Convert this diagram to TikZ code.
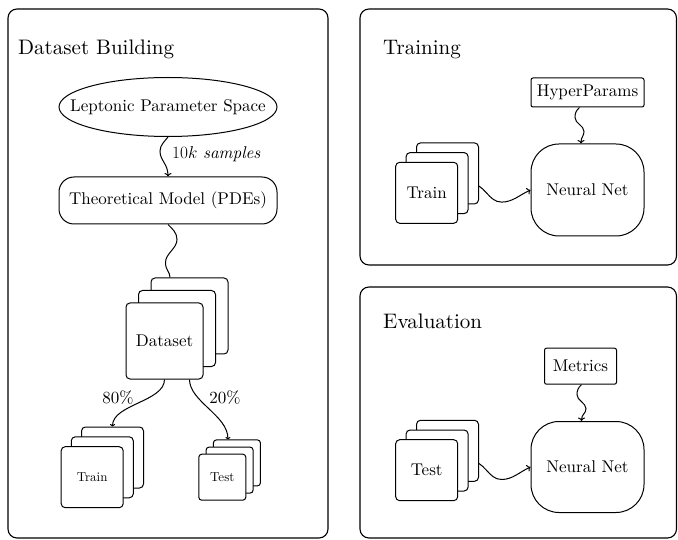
\documentclass[tikz,border=0pt]{standalone}
\usepackage{fontspec}
% one design size scaled to every size, so large text keeps the 10pt proportions
\setmainfont{lmroman10}[Extension=.otf, UprightFont=*-regular, ItalicFont=*-italic, BoldFont=*-bold, BoldItalicFont=*-bolditalic]
\usetikzlibrary{shapes.geometric,calc,backgrounds,arrows.meta}
\begin{document}
\begin{tikzpicture}[x=1pt,y=-1pt,
  panel/.style={draw, line width=1.1pt, rounded corners=9pt},
  title/.style={font=\fontsize{21}{25}\selectfont, anchor=base west, inner sep=0pt},
  txt/.style={font=\fontsize{17}{20}\selectfont},
  smalltxt/.style={font=\fontsize{13}{15}\selectfont},
  box/.style={draw, fill=white, line width=1pt, inner sep=0pt, txt},
  sheet/.style={box, rounded corners=4pt, minimum width=62pt, minimum height=61pt},
  bigsheet/.style={sheet, minimum width=77pt, minimum height=76pt},
  tinysheet/.style={sheet, rounded corners=3pt, minimum width=47pt, minimum height=46pt, smalltxt},
  link/.style={line width=1pt},
  tip/.style={link, -{To[length=3.5pt, width=7pt]}},
  smalltip/.style={link, -{To[length=2.5pt, width=5pt]}},
]
\useasboundingbox (0,0) rectangle (678,540);

% ---------- Dataset building ----------
\node[title] (t1) at (18,55) {Dataset Building};
\node[box, ellipse, minimum width=218pt, minimum height=59pt] (lps) at (168,107)
  {\makebox[0pt]{Leptonic Parameter Space}};
\node[box, rounded corners=15pt, minimum width=218pt, minimum height=47pt] (tm) at (168,200.5)
  {Theoretical Model (PDEs)};
\node[txt, anchor=base west, inner sep=0pt] (ns) at (172,158.5) {$10k$ \textit{samples}};

% dataset stack (back to front)
\node[bigsheet] (ds3) at (189.5,316) {};
\node[bigsheet] (ds2) at (177,328.5) {};
\node[bigsheet] (ds)  at (164.5,341) {Dataset};

% train split stack
\node[sheet, smalltxt] (tr3) at (112.5,457.5) {};
\node[sheet, smalltxt] (tr2) at (102.3,467.3) {};
\node[sheet, smalltxt] (tr)  at (92.2,477.2) {Train};

% test split stack
\node[tinysheet] (te3) at (236.9,462.9) {};
\node[tinysheet] (te2) at (229.6,470.1) {};
\node[tinysheet] (te)  at (222.3,477.2) {Test};

\node[txt, inner sep=0pt] (p80) at (118,398) {80\%};
\node[txt, inner sep=0pt] (p20) at (225,398) {20\%};

% ---------- Training ----------
\node[title] (t2) at (383,55) {Training};
\node[box, rounded corners=2pt, minimum width=113pt, minimum height=29pt] (hp) at (587.5,92.5) {HyperParams};
\node[box, rounded corners=28pt, minimum width=113pt, minimum height=92pt] (nn1) at (587.5,190) {Neural Net};
\node[sheet] (tt3) at (447.5,173.4) {};
\node[sheet] (tt2) at (437.1,183.1) {};
\node[sheet] (tt)  at (426.7,192.8) {Train};

% ---------- Evaluation ----------
\node[title] (t3) at (383,328.3) {Evaluation};
\node[box, rounded corners=2pt, minimum width=72pt, minimum height=36pt] (mt) at (580.5,366.2) {Metrics};
\node[box, rounded corners=28pt, minimum width=113pt, minimum height=91pt] (nn2) at (587.5,467) {Neural Net};
\node[sheet] (ev3) at (447.5,450.8) {};
\node[sheet] (ev2) at (437.1,460.5) {};
\node[sheet] (ev)  at (426.7,470.2) {Test};

\begin{pgfonlayer}{background}
  % panels
  \draw[panel] (8,9) rectangle (328,538);
  \draw[panel] (360,9) rectangle (676.5,265);
  \draw[panel] (360,287) rectangle (676.5,538);

  % sampling link
  \draw[tip] (lps.south)
    .. controls ($(lps.south)+(-3,4)$) and ($(lps.south)+(-8,8)$) .. ($(lps.south)+(-8,14)$)
    .. controls ($(lps.south)+(-8,24)$) and ($(tm.north)+(0,-13)$) .. (tm.north);

  % model to dataset
  \draw[link] (tm.south)
    .. controls ($(tm.south)+(4,4)$) and ($(tm.south)+(9,8)$) .. ($(tm.south)+(9,15)$)
    .. controls ($(tm.south)+(9,24)$) and ($(tm.south)+(-2.5,29)$) .. ($(tm.south)+(-2.5,38)$)
    .. controls ($(tm.south)+(-2.5,46)$) and ($(ds3.north)+(-19.5,-6)$) .. ($(ds3.north)+(-19.5,0)$);

  % splits
  \draw[smalltip] (ds.south) .. controls ($(ds.south)+(0,22)$) and ($(tr3.north)+(0,-22)$) .. (tr3.north);
  \draw[smalltip] ($(ds.south)+(25,0)$) .. controls ($(ds.south)+(25,22)$) and ($(te3.north)+(-9,-24)$) .. ($(te3.north)+(-9,0)$);

  % training links
  \draw[tip] ($(hp.south)+(-8,0)$)
    .. controls ($(hp.south)+(-11.5,3)$) and ($(hp.south)+(-12.5,6)$) .. ($(hp.south)+(-12.5,10)$)
    .. controls ($(hp.south)+(-12.5,16)$) and ($(hp.south)+(-3.5,18)$) .. ($(hp.south)+(-3.5,24)$)
    .. controls ($(hp.south)+(-3.5,29)$) and ($(nn1.north)+(-6.5,-7)$) .. ($(nn1.north)+(-6.5,0)$);
  \draw[tip] (tt2.east)
    .. controls ($(tt2.east)+(17,0)$) and ($(tt2.east)+(19,19)$) .. ($(tt2.east)+(33,19)$)
    .. controls ($(tt2.east)+(44,19)$) and ($(nn1.west)+(-11,5)$) .. (nn1.west);

  % evaluation links
  \draw[tip] ($(mt.south)+(1,0)$)
    .. controls ($(mt.south)+(-2.5,3)$) and ($(mt.south)+(-3.5,6)$) .. ($(mt.south)+(-3.5,10)$)
    .. controls ($(mt.south)+(-3.5,16)$) and ($(mt.south)+(5.5,18)$) .. ($(mt.south)+(5.5,24)$)
    .. controls ($(mt.south)+(5.5,29)$) and ($(nn2.north)+(-6,-7)$) .. ($(nn2.north)+(-6,0)$);
  \draw[tip] (ev2.east)
    .. controls ($(ev2.east)+(17,0)$) and ($(ev2.east)+(19,19)$) .. ($(ev2.east)+(33,19)$)
    .. controls ($(ev2.east)+(44,19)$) and ($(nn2.west)+(-11,5)$) .. (nn2.west);
\end{pgfonlayer}
\end{tikzpicture}
\end{document}
